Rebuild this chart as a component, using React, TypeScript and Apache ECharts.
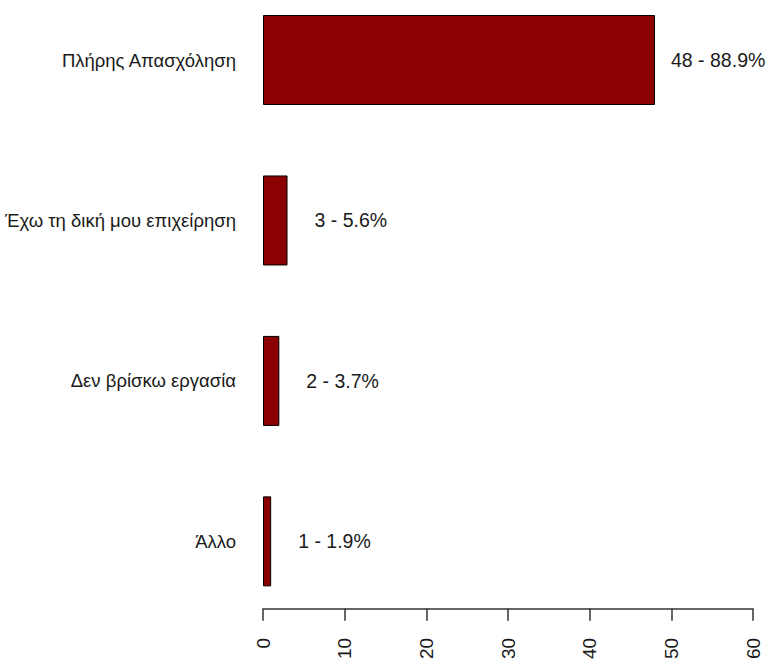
import React, { useEffect, useRef } from "react";
import * as echarts from "echarts";

const categories = [
  "Πλήρης Απασχόληση",
  "Έχω τη δική μου επιχείρηση",
  "Δεν βρίσκω εργασία",
  "Άλλο",
];
const counts = [48, 3, 2, 1];
const percents = ["88.9", "5.6", "3.7", "1.9"];
const labelGaps = [16, 27, 27, 27];
const xTicks = { min: 0, max: 60, interval: 10 };

const FONT = "'Liberation Sans', Arial, sans-serif";

export default function App() {
  const ref = useRef<HTMLDivElement>(null);
  useEffect(() => {
    if (!ref.current) return;
    const chart = echarts.init(ref.current, undefined, { renderer: "svg" });
    chart.setOption({
      animation: false,
      backgroundColor: "#ffffff",
      grid: { left: 263, right: 20, top: 60, bottom: 114.5, containLabel: false },
      xAxis: {
        type: "value",
        min: xTicks.min,
        max: xTicks.max,
        interval: xTicks.interval,
        position: "bottom",
        offset: 67.5,
        splitLine: { show: false },
        axisLine: { show: true, lineStyle: { color: "#333", width: 1.5 } },
        axisTick: { show: true, length: 12, lineStyle: { color: "#333", width: 1.5 } },
        axisLabel: {
          rotate: 90,
          margin: 29,
          fontSize: 19,
          fontFamily: FONT,
          color: "#1a1a1a",
        },
      },
      yAxis: {
        type: "category",
        data: categories,
        inverse: true,
        boundaryGap: false,
        axisLine: { show: false },
        axisTick: { show: false },
        splitLine: { show: false },
        axisLabel: {
          margin: 27,
          fontSize: 18.5,
          fontFamily: FONT,
          color: "#1a1a1a",
        },
      },
      series: [
        {
          type: "bar",
          barWidth: 90,
          data: counts.map((v, i) => ({
            value: v,
            label: { distance: labelGaps[i] },
          })),
          itemStyle: { color: "#8B0000", borderColor: "#000", borderWidth: 1 },
          label: {
            show: true,
            position: "right",
            fontSize: 19.5,
            fontFamily: FONT,
            color: "#1a1a1a",
            formatter: (p: any) => `${counts[p.dataIndex]} - ${percents[p.dataIndex]}%`,
          },
        },
      ],
    });
    return () => chart.dispose();
  }, []);
  return (
    <div
      ref={ref}
      style={{ position: "fixed", left: 0, top: 0, width: 773, height: 662 }}
    />
  );
}
